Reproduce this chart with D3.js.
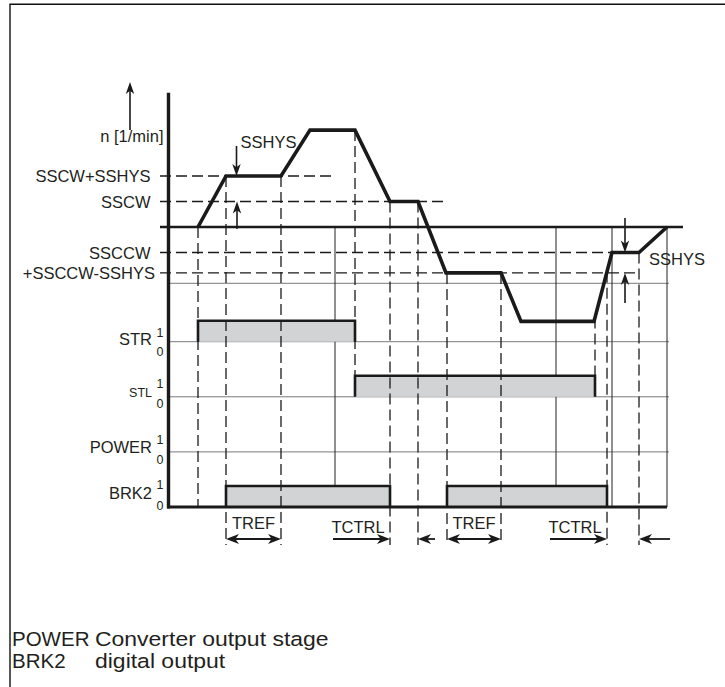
<!DOCTYPE html>
<html>
<head>
<meta charset="utf-8">
<script src="https://cdn.jsdelivr.net/npm/d3@7"></script>
<style>
  body { margin: 0; background: #fff; }
  svg { display: block; }
  text { font-family: "Liberation Sans", Arial, Helvetica, sans-serif; fill: #231f20; }
</style>
</head>
<body>
<svg id="chart" width="725" height="687"></svg>
<script>
// ---- speed thresholds (1/min) ----
const levelNames  = ["SSCW+SSHYS", "SSCW", "SSCCW", "+SSCCW-SSHYS"];
const levelValues = [1000, 500, -500, -900];
const levelGuideEnd = [165, 278, 442, 469];      // time where each dashed guide stops

// ---- speed profile n(t) ----
const profileTime  = [28, 56, 111, 140, 185, 220, 248, 276, 331, 351, 424, 442, 469, 497];
const profileSpeed = [0, 1000, 1000, 1900, 1900, 500, 500, -900, -900, -1850, -1850, -500, -500, 0];

// ---- digital signals (intervals at level 1) ----
const signalNames = ["STR", "STL", "POWER", "BRK2"];
const strHigh   = [[28, 185]];
const stlHigh   = [[185, 425]];
const powerHigh = [];
const brk2High  = [[56, 220], [277, 437]];

// ---- switching instants ----
const eventTimes = [28, 56, 111, 185, 220, 248, 277, 331, 425, 437, 469];
const eventEnds  = ["axis", "below", "below", "STL", "below", "below", "below", "below", "STL", "below", "below"];
const markerTimes = [165, 386, 442, 497];          // thin solid markers

// ---- time annotations ----
const spanKinds  = ["both", "right", "left", "both", "right", "left"];
const spanFrom   = [56, 163, 248, 277, 380, 469];
const spanTo     = [111, 220, 265, 331, 437, 500];
const spanLabels = ["TREF", "TCTRL", "", "TREF", "TCTRL", ""];
const spanLabelAt = [83.5, 188, 0, 304, 405, 0];

// ---- legend ----
const legendKeys  = ["POWER", "BRK2"];
const legendTexts = ["Converter output stage", "digital output"];

const highBySignal = { STR: strHigh, STL: stlHigh, POWER: powerHigh, BRK2: brk2High };

const svg = d3.select("#chart");
const x = d3.scaleLinear().domain([0, 500]).range([170, 670]);
const y = d3.scaleLinear().domain([0, 2000]).range([227, 125]);
const lane = d3.scalePoint().domain(signalNames).range([341.7, 507]);
const level = d3.scaleLinear().domain([0, 1]).range([0, -21]);

const FS = 16.5;
const digitalTop = 283.3;
const belowY = 545;
const dash = "11,5";

// frame
svg.append("path").attr("d", "M10,687V4.3H725")
  .attr("fill", "none").attr("stroke", "#111").attr("stroke-width", 1.4);

// thin grid of the signal area
const grid = svg.append("g").attr("stroke", "#7a7a7a").attr("stroke-width", 1);
[digitalTop, lane("STR"), lane("STL"), lane("POWER")].forEach(v => {
  grid.append("line").attr("x1", x(0)).attr("x2", 669).attr("y1", v).attr("y2", v);
});
svg.append("g").selectAll("line").data(markerTimes).join("line")
  .attr("x1", d => x(d)).attr("x2", d => x(d))
  .attr("y1", y(0)).attr("y2", lane("BRK2"))
  .attr("stroke", "#222").attr("stroke-width", 1);

// signal bars
const bars = svg.append("g");
signalNames.forEach(s => {
  highBySignal[s].forEach(([a, b]) => {
    const base = lane(s), top = base + level(1);
    bars.append("rect").attr("x", x(a)).attr("y", top)
      .attr("width", x(b) - x(a)).attr("height", base - top)
      .attr("fill", "#d2d3d5");
    bars.append("path")
      .attr("d", `M${x(a)},${base}V${top}H${x(b)}V${base}`)
      .attr("fill", "none").attr("stroke", "#1a1a1a").attr("stroke-width", 2.6)
      .attr("stroke-linejoin", "miter");
  });
});

// speed at any instant, along the profile
function speedAt(t) {
  for (let i = 1; i < profileTime.length; i++) {
    if (t <= profileTime[i]) {
      const t0 = profileTime[i - 1], t1 = profileTime[i];
      const f = (t - t0) / (t1 - t0);
      return profileSpeed[i - 1] + f * (profileSpeed[i] - profileSpeed[i - 1]);
    }
  }
  return 0;
}

// dashed event lines
const guides = svg.append("g").attr("stroke", "#1a1a1a").attr("stroke-width", 1.3)
  .attr("stroke-dasharray", dash).attr("fill", "none");
eventTimes.forEach((t, i) => {
  const y0 = y(speedAt(t));
  const end = eventEnds[i] === "axis" ? lane("BRK2")
            : eventEnds[i] === "STL" ? lane("STL") + level(1)
            : belowY;
  guides.append("line").attr("x1", x(t)).attr("x2", x(t)).attr("y1", y0).attr("y2", end);
});
levelValues.forEach((v, i) => {
  guides.append("line").attr("x1", 160).attr("x2", x(levelGuideEnd[i]))
    .attr("y1", y(v)).attr("y2", y(v));
});

// axes
svg.append("line").attr("x1", 160).attr("x2", 683).attr("y1", y(0)).attr("y2", y(0))
  .attr("stroke", "#1a1a1a").attr("stroke-width", 2.4);
svg.append("line").attr("x1", 168.5).attr("x2", 168.5).attr("y1", 92.7).attr("y2", lane("BRK2") + 1.5)
  .attr("stroke", "#1a1a1a").attr("stroke-width", 3.4);
svg.append("line").attr("x1", 167).attr("x2", 667).attr("y1", lane("BRK2")).attr("y2", lane("BRK2"))
  .attr("stroke", "#1a1a1a").attr("stroke-width", 3.2);

// speed profile
const line = d3.line().x(d => x(d[0])).y(d => y(d[1]));
svg.append("path").datum(d3.zip(profileTime, profileSpeed))
  .attr("d", line).attr("fill", "none").attr("stroke", "#1a1a1a")
  .attr("stroke-width", 3.6).attr("stroke-linejoin", "miter");

// arrows
function head(g, tx, ty, dir, len, half) {
  const a = { up: -Math.PI / 2, down: Math.PI / 2, left: Math.PI, right: 0 }[dir];
  const c = Math.cos(a), s = Math.sin(a);
  const pt = (u, v) => [tx + u * c - v * s, ty + u * s + v * c];
  const p = [pt(0, 0), pt(-len, half), pt(-len * 0.72, 0), pt(-len, -half)];
  g.append("path").attr("d", "M" + p.map(q => q.join(",")).join("L") + "Z")
    .attr("fill", "#1a1a1a").attr("stroke", "none");
}
const arr = svg.append("g");
function vArrow(xx, yFrom, yTo) {
  arr.append("line").attr("x1", xx).attr("x2", xx).attr("y1", yFrom)
    .attr("y2", yTo + (yTo > yFrom ? -6 : 6))
    .attr("stroke", "#1a1a1a").attr("stroke-width", 1.6);
  head(arr, xx, yTo, yTo > yFrom ? "down" : "up", 12, 4.2);
}
vArrow(130, 130, 82);
vArrow(236.5, 146, y(1000));
vArrow(237, 229, y(500));
vArrow(625, 218, y(-500));
vArrow(625, 303, y(-900));

// time spans
const spanY = 539;
spanKinds.forEach((k, i) => {
  const a = x(spanFrom[i]), b = x(spanTo[i]);
  const l1 = (k === "both" || k === "left") ? a + 8 : a;
  const l2 = (k === "both" || k === "right") ? b - 8 : b;
  arr.append("line").attr("x1", l1).attr("x2", l2).attr("y1", spanY).attr("y2", spanY)
    .attr("stroke", "#1a1a1a").attr("stroke-width", 1.8);
  if (k === "both" || k === "left") head(arr, a, spanY, "left", 13, 5);
  if (k === "both" || k === "right") head(arr, b, spanY, "right", 13, 5);
  if (spanLabels[i]) {
    svg.append("text").attr("x", x(spanLabelAt[i]))
      .attr("y", spanLabels[i] === "TREF" ? 528.5 : 532.5)
      .attr("text-anchor", "middle").attr("font-size", FS).text(spanLabels[i]);
  }
});

// labels
const lab = svg.append("g").attr("font-size", FS);
lab.append("text").attr("x", 163.5).attr("y", 142).attr("text-anchor", "end").text("n [1/min]");
levelNames.forEach((n, i) => {
  lab.append("text").attr("x", i === 3 ? 155 : 150.5).attr("y", y(levelValues[i]) + 6)
    .attr("text-anchor", "end").text(n);
});
lab.append("text").attr("x", 240.5).attr("y", 147.8).text("SSHYS");
lab.append("text").attr("x", 649).attr("y", 265).text("SSHYS");

const labelDy = [3.3, 0, 1, -8];
const oneDy   = [-5, -9.3, -8.4, -17.7];
const zeroDy  = [14.3, 10.7, 11.6, 3];
signalNames.forEach((s, i) => {
  const base = lane(s);
  lab.append("text").attr("x", 152).attr("y", base + labelDy[i])
    .attr("text-anchor", "end").attr("font-size", s === "STL" ? 12.5 : FS).text(s);
  lab.append("text").attr("x", 156.5).attr("y", base + oneDy[i]).attr("font-size", 12.5).text("1");
  lab.append("text").attr("x", 156.5).attr("y", base + zeroDy[i]).attr("font-size", 12.5).text("0");
});

// legend (descriptions set slightly wide)
legendKeys.forEach((k, i) => {
  svg.append("text").attr("x", 12).attr("y", 646 + i * 22).attr("font-size", 20.5).text(k);
  const t = svg.append("text").attr("x", 95).attr("y", 646 + i * 22).attr("font-size", 20.5)
    .text(legendTexts[i]);
  const w = t.node().getComputedTextLength();
  t.attr("textLength", w * 1.12).attr("lengthAdjust", "spacingAndGlyphs");
});
</script>
</body>
</html>
